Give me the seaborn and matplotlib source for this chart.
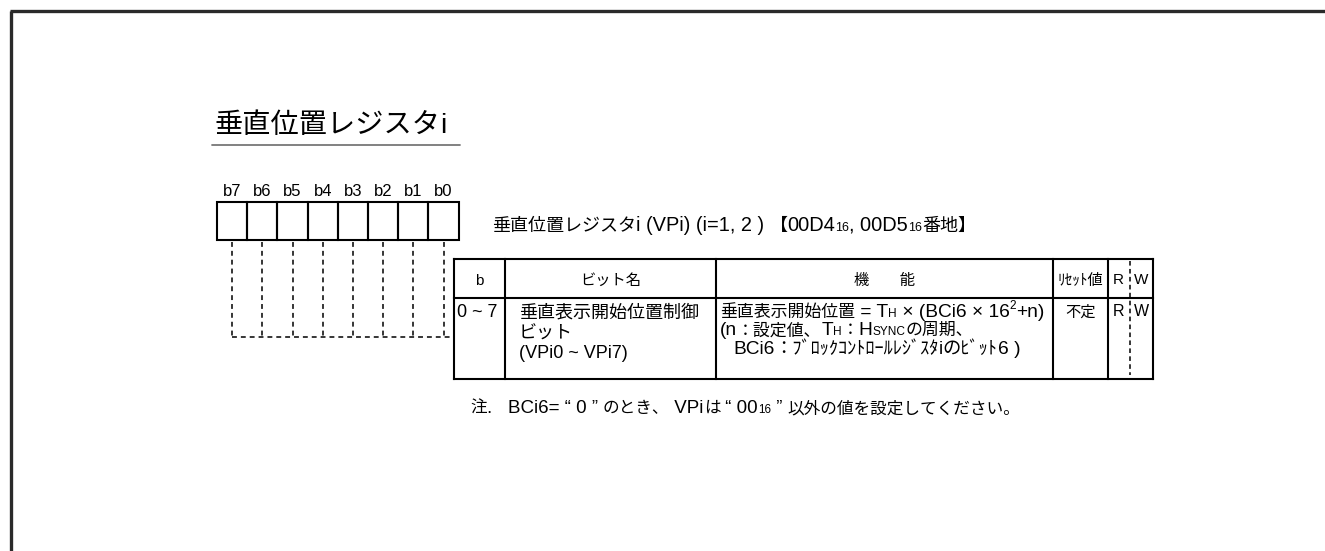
import matplotlib
matplotlib.use("Agg")
import matplotlib.pyplot as plt
from matplotlib.patches import Rectangle
import seaborn as sns

sns.set_theme(style="white")
plt.rcParams['font.family'] = ['Liberation Sans', 'Noto Sans CJK JP']

# ---------------- content ----------------
title = "垂直位置レジスタi"
bit_labels = ["b7", "b6", "b5", "b4", "b3", "b2", "b1", "b0"]
register_caption = [("垂直位置レジスタi (VPi) (i=1, 2 ) 【00D4", "n"), ("16", "s"),
                    (", 00D5", "n"), ("16", "s"), ("番地】", "n")]
col_headers = ["b", "ビット名", "機　　能", "ﾘｾｯﾄ値"]
rw_labels = ["R", "W"]
row_bits = "0 ~ 7"
row_name = ["垂直表示開始位置制御", "ビット", "(VPi0 ~ VPi7)"]
row_function = [
    [("垂直表示開始位置 = T", "n"), ("H", "s"), (" × (BCi6 × 16", "n"), ("2", "sup"), ("+n)", "n")],
    [("(n：設定値、T", "n"), ("H", "s"), ("：H", "n"), ("SYNC", "s"), ("の周期、", "n")],
    [("BCi6：ﾌﾞﾛｯｸｺﾝﾄﾛｰﾙﾚｼﾞｽﾀiのﾋﾞｯﾄ6 )", "n")],
]
reset_value = "不定"
note = [("注.   BCi6= “ 0 ” のとき、 VPiは “ 00", "n"), ("16", "s"), (" ” 以外の値を設定してください。", "n")]

# ---------------- layout (pixel space) ----------------
W, H = 1325, 551
fig = plt.figure(figsize=(W / 100, H / 100), dpi=100)
ax = fig.add_axes([0, 0, 1, 1])
ax.set_xlim(0, W)
ax.set_ylim(H, 0)
ax.axis("off")
fig.patch.set_facecolor("white")
renderer = fig.canvas.get_renderer()

K = "black"
PX = 100 / 72


def is_cjk(ch):
    return ord(ch) >= 0x2E80


def runs(s):
    out, cur, flag = [], "", None
    for ch in s:
        f = is_cjk(ch)
        if flag is None or f == flag:
            cur += ch
        else:
            out.append((cur, flag))
            cur = ch
        flag = f
    if cur:
        out.append((cur, flag))
    return out


def rich(x, yc, segs, L, C=None, ha="left"):
    """Draw mixed Latin/CJK text; yc is the visual centre line."""
    C = C if C is not None else L * 0.88
    base = yc + 0.37 * C * PX
    texts = []
    for txt, kind in segs:
        for r, cjk in runs(txt):
            fs = C if cjk else L
            dy = 0
            if kind == "s":
                fs *= 0.62
            elif kind == "sup":
                fs *= 0.62
                dy = -0.45 * L * PX
            t = ax.text(x, base + dy, r, fontsize=fs, va="baseline", ha="left", color=K)
            w = t.get_window_extent(renderer=renderer).width
            texts.append(t)
            x += w
    if ha == "center":
        total = x - texts[0].get_position()[0]
        for t in texts:
            px, py = t.get_position()
            t.set_position((px - total / 2, py))
    return texts


# outer frame (left and top)
ax.plot([11, 11], [11, H + 5], color="#2a2a2a", lw=2.4, solid_capstyle="butt")
ax.plot([10, W + 5], [11, 11], color="#2a2a2a", lw=2.4, solid_capstyle="butt")

# title
rich(214, 123, [(title, "n")], 20, 20.3)
ax.plot([212, 460], [144.5, 144.5], color="#777777", lw=1.3)

# register boxes
box_x0, box_w, box_top, box_bot = 217, 30.2, 202, 239.5
for i, lab in enumerate(bit_labels):
    x = box_x0 + i * box_w
    ax.add_patch(Rectangle((x, box_top), box_w, box_bot - box_top, fill=False, ec=K, lw=1.5))
    ax.text(x + box_w / 2, 196, lab, fontsize=12, ha="center", va="baseline", color=K)

# table geometry
cols = [454, 505, 716, 1053, 1108, 1153]
t_top, t_head, t_bot = 259, 298, 379

# dashed leaders
dash = (0, (3.2, 2.6))
for i in range(len(bit_labels)):
    xc = box_x0 + (i + 0.5) * box_w
    ax.plot([xc, xc], [box_bot + 2, 337], color=K, lw=1.1, linestyle=dash)
ax.plot([box_x0 + 0.5 * box_w, cols[0]], [337, 337], color=K, lw=1.1, linestyle=dash)

# caption
rich(492, 224, register_caption, 14.4, 13)

# table lines
for x in cols:
    ax.plot([x, x], [t_top, t_bot], color=K, lw=1.5, solid_capstyle="projecting")
for y in (t_top, t_head, t_bot):
    ax.plot([cols[0], cols[-1]], [y, y], color=K, lw=1.5, solid_capstyle="projecting")
rw_x = (cols[4] + cols[5]) / 2 - 1
ax.plot([rw_x, rw_x], [t_top + 2, t_bot - 4], color=K, lw=1.1, linestyle=(0, (3.0, 2.2)))

# header texts
for i, h in enumerate(col_headers):
    rich((cols[i] + cols[i + 1]) / 2, 279, [(h, "n")], 11, 11, ha="center")
rich(rw_x - 11, 279, [(rw_labels[0], "n")], 11, ha="center")
rich(rw_x + 12, 279, [(rw_labels[1], "n")], 11, ha="center")

# row texts
rich(457, 311, [(row_bits, "n")], 13)
rich(519, 311, [(row_name[0], "n")], 13, 13)
rich(519, 332, [(row_name[1], "n")], 13, 13)
rich(519, 352, [(row_name[2], "n")], 13)

rich(720, 311, row_function[0], 13.8, 12.2)
rich(720, 329, row_function[1], 13.8, 12.2)
rich(733, 347, row_function[2], 13.8, 13.2)

rich((cols[3] + cols[4]) / 2, 311, [(reset_value, "n")], 11, 11, ha="center")
rich(rw_x - 11, 311, [(rw_labels[0], "n")], 11.5, ha="center")
rich(rw_x + 12, 311, [(rw_labels[1], "n")], 11.5, ha="center")

# note
rich(470, 407, note, 13.5, 12)

fig.savefig("out.png", dpi=100, facecolor="white")
